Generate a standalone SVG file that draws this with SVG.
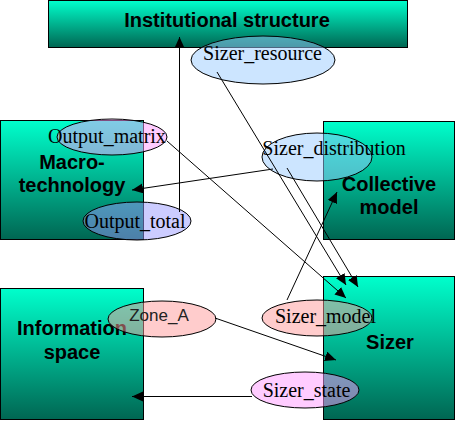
<svg xmlns="http://www.w3.org/2000/svg" width="456" height="421" viewBox="0 0 456 421">
<defs>
<linearGradient id="g" x1="0" y1="0" x2="0" y2="1">
<stop offset="0" stop-color="#00ffcc"/>
<stop offset="1" stop-color="#006652"/>
</linearGradient>
<marker id="arr" markerUnits="userSpaceOnUse" markerWidth="12" markerHeight="11" refX="11" refY="5" orient="auto">
<path d="M0,0 L11,5 L0,10 z" fill="#000"/>
</marker>
</defs>
<style>
.box{fill:url(#g);stroke:#000;stroke-width:1}
.bt{font-family:"Liberation Sans",Arial,sans-serif;font-weight:bold;font-size:20px;fill:#000;text-anchor:middle}
.el{stroke:#000;stroke-width:1;fill-opacity:0.5}
.et{font-family:"Liberation Serif","Times New Roman",serif;font-size:20px;fill:#000;text-anchor:middle}
.es{font-family:"Liberation Sans",Arial,sans-serif;font-size:17px;fill:#222;text-anchor:middle}
.blue{fill:#99ccff}
.pink{fill:#ff99ff}
.salmon{fill:#ff9999}
.lav{fill:#9999ff}
.c{stroke:#000;stroke-width:1;fill:none;marker-end:url(#arr)}
</style>
<g id="institutional">
<rect class="box" x="48.5" y="0.5" width="359" height="47"/>
<text class="bt" x="227" y="27">Institutional structure</text>
</g>
<g id="macro">
<rect class="box" x="0.5" y="120.5" width="143" height="119"/>
<text class="bt" x="72" y="169">Macro-</text>
<text class="bt" x="72" y="192">technology</text>
</g>
<g id="collective">
<rect class="box" x="323.5" y="121.5" width="131" height="118"/>
<text class="bt" x="389" y="191">Collective</text>
<text class="bt" x="389" y="214">model</text>
</g>
<g id="information">
<rect class="box" x="0.5" y="288.5" width="143" height="131"/>
<text class="bt" x="72" y="335">Information</text>
<text class="bt" x="72" y="359">space</text>
</g>
<g id="sizer">
<rect class="box" x="323.5" y="276.5" width="131" height="143"/>
<text class="bt" x="390" y="349">Sizer</text>
</g>
<g id="sizer_resource">
<ellipse class="el blue" cx="263" cy="60" rx="72" ry="24"/>
<text class="et" x="262.5" y="60">Sizer_resource</text>
</g>
<g id="output_matrix">
<ellipse class="el pink" cx="112" cy="137" rx="55" ry="18"/>
<text class="et" x="107" y="143">Output_matrix</text>
</g>
<g id="output_total">
<ellipse class="el lav" cx="137" cy="221" rx="54" ry="19"/>
<text class="et" x="135" y="228">Output_total</text>
</g>
<g id="sizer_distribution">
<ellipse class="el blue" cx="317" cy="157" rx="55" ry="24"/>
<text class="et" x="334" y="155">Sizer_distribution</text>
</g>
<g id="zone_a">
<ellipse class="el salmon" cx="162" cy="319" rx="54" ry="18"/>
<text class="es" x="159" y="321">Zone_A</text>
</g>
<g id="sizer_model">
<ellipse class="el salmon" cx="317" cy="318" rx="55" ry="18"/>
<text class="et" x="325.5" y="323">Sizer_model</text>
</g>
<g id="sizer_state">
<ellipse class="el pink" cx="305" cy="390" rx="54" ry="18"/>
<text class="et" x="306.5" y="397">Sizer_state</text>
</g>
<g id="connectors">
<path class="c" d="M179.5,212 L179.5,37"/>
<path class="c" d="M217,72 L346,285"/>
<path class="c" d="M287,168 L358,287"/>
<path class="c" d="M167,141 L346,298"/>
<path class="c" d="M273,169 L132,190"/>
<path class="c" d="M287,300 L337,192"/>
<path class="c" d="M215,318 L336,360"/>
<path class="c" d="M252,396.5 L132,396.5"/>
</g>
</svg>
